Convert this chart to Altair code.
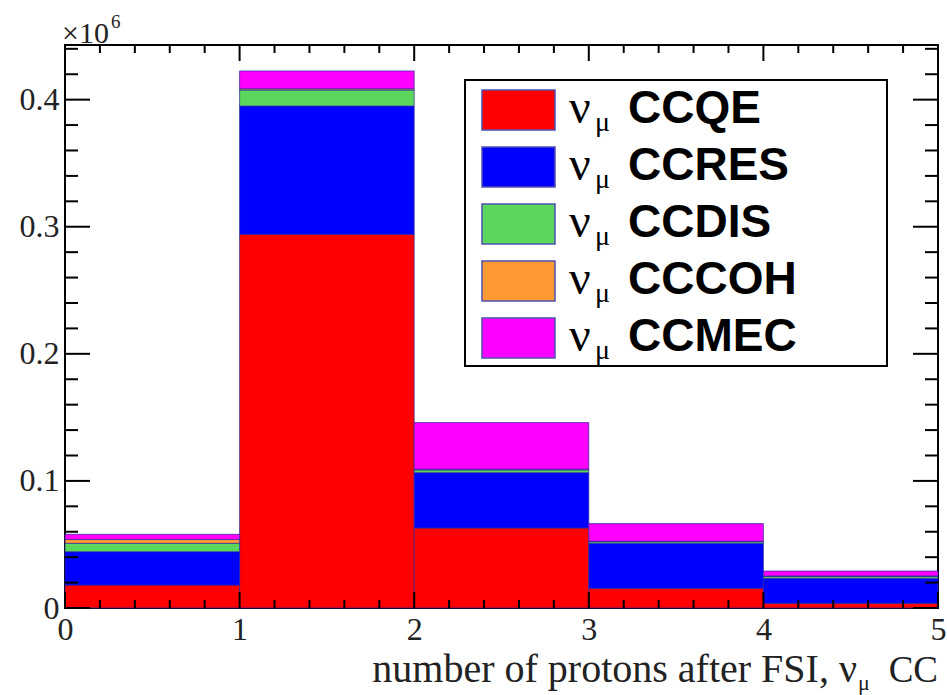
import altair as alt
import pandas as pd

# Histogram bins: number of protons after FSI
bin_low = [0, 1, 2, 3, 4]
bin_high = [1, 2, 3, 4, 5]

# Interaction modes (stacked bottom to top) and their fill colours
modes = ["CCQE", "CCRES", "CCDIS", "CCCOH", "CCMEC"]
mode_colors = ["#ff0000", "#0000ff", "#5bd75b", "#ff9933", "#ff00ff"]

# Event counts per bin for each mode
ccqe = [18000, 294000, 63000, 15500, 3700]
ccres = [26300, 101000, 43500, 35500, 19700]
ccdis = [6600, 12600, 2200, 1200, 1500]
cccoh = [3000, 1000, 500, 300, 300]
ccmec = [4100, 14000, 36700, 13900, 3900]

# Axis ticks
x_labels = [0, 1, 2, 3, 4, 5]
x_major = [0, 1, 2, 3, 4, 5]
x_minor = [round(0.2 * i, 1) for i in range(26) if i % 5]
y_labels = [0, 100000, 200000, 300000, 400000]
y_major = [0, 100000, 200000, 300000, 400000]
y_minor = [20000 * i for i in range(23) if i % 5]

W, H = 873, 563
Y_MAX = 443000
SERIF = "Liberation Serif"
SANS = "Liberation Sans"

series = [ccqe, ccres, ccdis, cccoh, ccmec]
rows = []
for k, (m, vals) in enumerate(zip(modes, series)):
    for lo, hi, v in zip(bin_low, bin_high, vals):
        rows.append({"lo": lo, "hi": hi, "mode": m, "k": k, "count": v})
hist = pd.DataFrame(rows)

xs = alt.Scale(domain=[0, 5], nice=False, zero=False)
ys = alt.Scale(domain=[0, Y_MAX], nice=False, zero=True)

# Stacked histogram: each mode piled on the ones below it within a bin
bars = alt.Chart(hist).transform_stack(
    stack="count", groupby=["lo"], as_=["c0", "c1"], sort=[alt.SortField("k", order="ascending")]
).mark_rect(
    stroke="#2a2aa0", strokeWidth=1, strokeOpacity=0.7
).encode(
    x=alt.X("lo:Q", scale=xs, title=None,
            axis=alt.Axis(values=x_labels, ticks=False, domain=False, grid=False,
                          labelFont=SERIF, labelFontSize=32, labelColor="#222",
                          labelPadding=6, format="d", labelFlush=False)),
    x2="hi:Q",
    y=alt.Y("c0:Q", scale=ys, title=None,
            axis=alt.Axis(values=y_labels, ticks=False, domain=False, grid=False,
                          labelFont=SERIF, labelFontSize=32, labelColor="#222",
                          labelPadding=6, labelFlush=False,
                          labelExpr="datum.value == 0 ? '0' : format(datum.value / 1e6, '.1f')")),
    y2="c1:Q",
    color=alt.Color("mode:N", scale=alt.Scale(domain=modes, range=mode_colors), legend=None),
)


def tick_layer(values, channel, side, length):
    df = pd.DataFrame({"t": values})
    base = alt.Chart(df).mark_rule(color="black", strokeWidth=2)
    if channel == "x":
        y0 = H if side == "bottom" else 0
        y1 = H - length if side == "bottom" else length
        return base.encode(x=alt.X("t:Q", scale=xs), y=alt.value(y0), y2=alt.value(y1))
    x0 = 0 if side == "left" else W
    x1 = length if side == "left" else W - length
    return base.encode(y=alt.Y("t:Q", scale=ys), x=alt.value(x0), x2=alt.value(x1))


ticks = [
    tick_layer(x_major, "x", "bottom", 16),
    tick_layer(x_minor, "x", "bottom", 8),
    tick_layer(x_major, "x", "top", 16),
    tick_layer(x_minor, "x", "top", 8),
    tick_layer(y_major, "y", "left", 25),
    tick_layer(y_minor, "y", "left", 13),
    tick_layer(y_major, "y", "right", 25),
    tick_layer(y_minor, "y", "right", 13),
]

# Legend box
one = pd.DataFrame({"a": [0]})
leg_box = alt.Chart(one).mark_rect(fill="white", stroke="black", strokeWidth=2).encode(
    x=alt.value(400), x2=alt.value(822), y=alt.value(35), y2=alt.value(321)
)

leg = pd.DataFrame({"mode": modes, "color": mode_colors, "row": list(range(len(modes)))})
leg["yc"] = 65 + 57 * leg["row"]
leg["y0"] = leg["yc"] - 20
leg["y1"] = leg["yc"] + 20
leg["ynu"] = leg["yc"] + 13
leg["ymu"] = leg["yc"] + 21
leg["nu"] = "ν"
leg["mu"] = "μ"

swatch = alt.Chart(leg).mark_rect(stroke="#5050b0", strokeWidth=1.5).encode(
    x=alt.value(417), x2=alt.value(490),
    y=alt.Y("y0:Q", scale=None, axis=None), y2="y1:Q",
    fill=alt.Fill("color:N", scale=None),
)
nu_txt = alt.Chart(leg).mark_text(font=SERIF, fontSize=48, align="left", baseline="alphabetic").encode(
    x=alt.value(504), y=alt.Y("ynu:Q", scale=None, axis=None), text="nu:N")
mu_txt = alt.Chart(leg).mark_text(font=SERIF, fontSize=28, align="left", baseline="alphabetic").encode(
    x=alt.value(530), y=alt.Y("ymu:Q", scale=None, axis=None), text="mu:N")
name_txt = alt.Chart(leg).mark_text(font=SANS, fontWeight="bold", fontSize=46, align="left",
                                    baseline="alphabetic").encode(
    x=alt.value(563), y=alt.Y("ynu:Q", scale=None, axis=None), text="mode:N")

# ×10^6 multiplier above the y axis
mult = alt.Chart(one).mark_text(font=SERIF, fontSize=30, align="left", baseline="alphabetic",
                                color="#222").encode(
    x=alt.value(-3), y=alt.value(-2), text=alt.value("×10"))
mult_exp = alt.Chart(one).mark_text(font=SERIF, fontSize=19, align="left", baseline="alphabetic",
                                    color="#222").encode(
    x=alt.value(46), y=alt.value(-17), text=alt.value("6"))

# x-axis title, right aligned, with the muon subscript on the neutrino
title_a = alt.Chart(one).mark_text(font=SERIF, fontSize=40, align="right", baseline="alphabetic",
                                   color="#222").encode(
    x=alt.value(792), y=alt.value(637), text=alt.value("number of protons after FSI, ν"))
title_mu = alt.Chart(one).mark_text(font=SERIF, fontSize=22, align="left", baseline="alphabetic",
                                    color="#222").encode(
    x=alt.value(793), y=alt.value(645), text=alt.value("μ"))
title_b = alt.Chart(one).mark_text(font=SERIF, fontSize=37, align="right", baseline="alphabetic",
                                   color="#222").encode(
    x=alt.value(873), y=alt.value(637), text=alt.value("CC"))

chart = alt.layer(
    bars, *ticks, leg_box, swatch, nu_txt, mu_txt, name_txt,
    mult, mult_exp, title_a, title_mu, title_b
).properties(
    width=W, height=H,
    autosize=alt.AutoSizeParams(type="none"),
    padding={"left": 65, "top": 45, "right": 9, "bottom": 87},
    background="white",
).configure_view(stroke="black", strokeWidth=2)

chart.save("out.html", embed_options={"renderer": "svg", "actions": False})
